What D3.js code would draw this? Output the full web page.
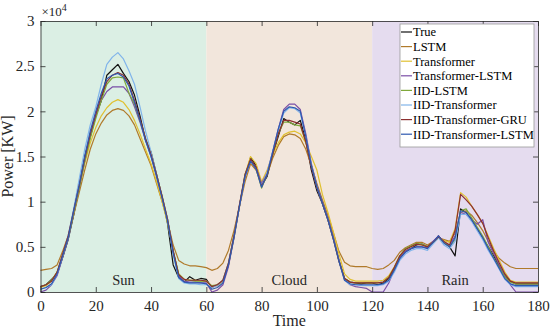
<!DOCTYPE html>
<html>
<head>
<meta charset="utf-8">
<script src="https://cdn.jsdelivr.net/npm/d3@7"></script>
<style>
  body { margin: 0; background: #fff; }
  text { font-family: "Liberation Serif", "Times New Roman", serif; fill: #262626; }
</style>
</head>
<body>
<div id="chart"></div>
<script>
// values are in units of 10^4 KW, sampled every 2 time steps
const time = d3.range(0, 181, 2)

const trueVals = [0.06,0.08,0.14,0.20,0.38,0.58,0.85,1.15,1.50,1.72,1.95,2.12,2.40,2.46,2.52,2.42,2.33,2.18,1.95,1.68,1.55,1.30,1.05,0.75,0.30,0.16,0.11,0.17,0.13,0.15,0.14,
  0.05,0.08,0.12,0.30,0.62,0.95,1.28,1.49,1.40,1.18,1.28,1.52,1.72,1.92,1.88,1.85,1.90,1.68,1.35,1.12,0.98,0.80,0.60,0.35,0.15,0.11,0.10,0.09,0.10,0.10,
  0.08,0.10,0.15,0.25,0.38,0.45,0.48,0.52,0.53,0.50,0.55,0.62,0.55,0.50,0.40,0.92,0.88,0.80,0.70,0.60,0.50,0.40,0.28,0.18,0.12,0.09,0.09,0.09,0.09,0.09]
const lstmVals = [0.24,0.25,0.26,0.30,0.45,0.62,0.85,1.10,1.35,1.58,1.75,1.87,1.96,2.01,2.03,2.01,1.95,1.85,1.70,1.55,1.40,1.20,1.00,0.78,0.52,0.35,0.31,0.29,0.29,0.28,0.27,
  0.24,0.26,0.32,0.46,0.68,0.95,1.22,1.42,1.35,1.20,1.30,1.48,1.62,1.72,1.75,1.74,1.70,1.58,1.40,1.20,1.02,0.85,0.65,0.45,0.33,0.29,0.28,0.28,0.28,0.26,
  0.25,0.26,0.30,0.35,0.44,0.49,0.52,0.55,0.55,0.52,0.56,0.60,0.58,0.56,0.65,0.88,0.90,0.85,0.77,0.68,0.56,0.45,0.37,0.32,0.28,0.26,0.26,0.26,0.26,0.26]
const transformerVals = [0.05,0.07,0.12,0.22,0.40,0.60,0.88,1.15,1.42,1.65,1.82,1.95,2.04,2.10,2.13,2.10,2.02,1.90,1.75,1.58,1.42,1.22,1.00,0.76,0.45,0.20,0.14,0.13,0.13,0.12,0.12,
  0.06,0.07,0.12,0.30,0.60,0.95,1.30,1.50,1.42,1.22,1.35,1.52,1.65,1.74,1.77,1.78,1.75,1.65,1.50,1.35,1.08,0.88,0.66,0.42,0.20,0.14,0.12,0.12,0.12,0.12,
  0.12,0.13,0.18,0.28,0.40,0.47,0.50,0.53,0.52,0.50,0.55,0.60,0.57,0.55,0.70,1.10,1.05,0.95,0.86,0.76,0.62,0.48,0.35,0.22,0.13,0.11,0.11,0.11,0.11,0.11]
const transLstmVals = [0.00,0.02,0.08,0.18,0.38,0.58,0.88,1.15,1.45,1.72,1.95,2.12,2.22,2.27,2.27,2.27,2.20,2.05,1.88,1.68,1.50,1.28,1.05,0.80,0.45,0.18,0.12,0.11,0.11,0.10,0.10,
  0.00,0.02,0.08,0.28,0.60,0.95,1.28,1.45,1.38,1.20,1.32,1.55,1.80,2.02,2.08,2.08,2.02,1.75,1.42,1.18,1.00,0.82,0.60,0.35,0.14,0.08,0.06,0.05,0.04,0.00,
  0.00,0.00,0.10,0.25,0.38,0.45,0.48,0.50,0.50,0.49,0.56,0.62,0.55,0.52,0.62,0.88,0.86,0.80,0.75,0.80,0.55,0.42,0.30,0.18,0.08,0.00,0.00,0.00,0.00,0.00]
const iidLstmVals = [0.06,0.08,0.13,0.22,0.40,0.60,0.88,1.15,1.45,1.70,1.92,2.12,2.30,2.37,2.38,2.37,2.20,2.08,1.90,1.70,1.52,1.30,1.06,0.80,0.45,0.20,0.14,0.13,0.12,0.12,0.12,
  0.07,0.08,0.13,0.32,0.62,0.96,1.30,1.46,1.36,1.15,1.30,1.52,1.75,1.88,1.88,1.85,1.84,1.66,1.40,1.16,0.98,0.80,0.58,0.34,0.15,0.11,0.10,0.10,0.10,0.10,
  0.10,0.11,0.16,0.27,0.40,0.48,0.51,0.54,0.53,0.50,0.54,0.60,0.55,0.50,0.58,0.90,0.92,0.82,0.72,0.62,0.50,0.38,0.27,0.17,0.11,0.09,0.09,0.09,0.09,0.09]
const iidTransVals = [0.03,0.05,0.08,0.20,0.40,0.62,0.92,1.25,1.58,1.85,2.05,2.30,2.52,2.60,2.65,2.58,2.45,2.30,2.05,1.78,1.55,1.30,1.05,0.80,0.42,0.15,0.10,0.09,0.09,0.08,0.08,
  0.05,0.07,0.13,0.32,0.62,0.96,1.28,1.45,1.37,1.18,1.32,1.55,1.78,1.98,2.04,2.03,1.98,1.72,1.40,1.16,0.98,0.80,0.58,0.34,0.13,0.08,0.08,0.07,0.07,0.07,
  0.07,0.08,0.12,0.22,0.35,0.42,0.46,0.48,0.48,0.46,0.53,0.60,0.52,0.48,0.56,0.86,0.86,0.78,0.68,0.58,0.46,0.36,0.25,0.14,0.08,0.06,0.06,0.06,0.06,0.06]
const iidGruVals = [0.06,0.08,0.12,0.22,0.42,0.62,0.90,1.18,1.48,1.75,1.97,2.17,2.33,2.40,2.43,2.40,2.30,2.12,1.92,1.70,1.52,1.30,1.06,0.80,0.46,0.19,0.14,0.13,0.13,0.13,0.12,
  0.06,0.08,0.13,0.32,0.62,0.97,1.30,1.47,1.38,1.17,1.30,1.52,1.75,1.90,1.90,1.88,1.86,1.66,1.38,1.15,0.98,0.80,0.58,0.34,0.15,0.11,0.10,0.10,0.10,0.10,
  0.10,0.11,0.16,0.27,0.40,0.47,0.50,0.53,0.52,0.50,0.55,0.61,0.56,0.52,0.68,1.08,1.02,0.95,0.86,0.76,0.60,0.45,0.32,0.20,0.12,0.10,0.10,0.10,0.10,0.10]
const iidTransLstmVals = [0.03,0.05,0.09,0.20,0.40,0.60,0.90,1.18,1.50,1.78,2.00,2.20,2.36,2.40,2.42,2.38,2.28,2.10,1.90,1.68,1.50,1.28,1.04,0.78,0.43,0.16,0.11,0.10,0.10,0.10,0.09,
  0.03,0.05,0.10,0.30,0.60,0.95,1.28,1.45,1.36,1.16,1.30,1.55,1.80,2.00,2.05,2.04,2.00,1.72,1.40,1.16,0.98,0.80,0.58,0.34,0.13,0.09,0.08,0.08,0.08,0.08,
  0.08,0.09,0.13,0.24,0.37,0.44,0.48,0.50,0.50,0.48,0.55,0.62,0.54,0.50,0.60,0.90,0.88,0.80,0.70,0.60,0.48,0.37,0.26,0.15,0.09,0.07,0.07,0.07,0.07,0.07]

const seriesNames = ['True', 'LSTM', 'Transformer', 'Transformer-LSTM', 'IID-LSTM', 'IID-Transformer', 'IID-Transformer-GRU', 'IID-Transformer-LSTM']
const seriesValues = [trueVals, lstmVals, transformerVals, transLstmVals, iidLstmVals, iidTransVals, iidGruVals, iidTransLstmVals]
const seriesColors = ['#111111', '#b07a2a', '#e0c030', '#7a4fa6', '#7fa83a', '#80b4ea', '#8c2f2f', '#2e58b0']

const weatherNames = ['Sun', 'Cloud', 'Rain']
const weatherStart = [0, 60, 120]
const weatherEnd = [60, 120, 180]
const weatherColors = ['#dbefe4', '#f2e6dc', '#e5dcef']

const xTicks = d3.range(0, 181, 20)
const yTicks = [0, 0.5, 1, 1.5, 2, 2.5, 3]

const width = 550
const height = 331
const margin = { top: 21, right: 12, bottom: 39, left: 40.5 }

const svg = d3.select('#chart').append('svg')
    .attr('width', width)
    .attr('height', height)

const x = d3.scaleLinear().domain([0, 180]).range([margin.left, width - margin.right])
const y = d3.scaleLinear().domain([0, 3]).range([height - margin.bottom, margin.top])

// weather bands
svg.selectAll('rect.band')
    .data(weatherNames).enter().append('rect')
    .attr('class', 'band')
    .attr('x', (d, i) => x(weatherStart[i]))
    .attr('width', (d, i) => x(weatherEnd[i]) - x(weatherStart[i]))
    .attr('y', y(3))
    .attr('height', y(0) - y(3))
    .style('fill', (d, i) => weatherColors[i])

svg.selectAll('text.band')
    .data(weatherNames).enter().append('text')
    .attr('x', (d, i) => x((weatherStart[i] + weatherEnd[i]) / 2))
    .attr('y', y(0) - 7)
    .attr('text-anchor', 'middle')
    .style('font-size', '14.5px')
    .text(d => d)

const line = d3.line()
    .x((d, i) => x(time[i]))
    .y(d => y(d))

svg.selectAll('path.series')
    .data(seriesValues).enter().append('path')
    .attr('class', 'series')
    .attr('d', d => line(d))
    .style('fill', 'none')
    .style('stroke', (d, i) => seriesColors[i])
    .style('stroke-width', 1.2)
    .style('stroke-linejoin', 'round')

// axes with inward ticks on all four sides
const tickLen = 5
const xAxisB = d3.axisBottom(x).tickValues(xTicks).tickSizeInner(-tickLen).tickSizeOuter(0).tickPadding(8)
const xAxisT = d3.axisTop(x).tickValues(xTicks).tickSizeInner(-tickLen).tickSizeOuter(0).tickFormat('')
const yAxisL = d3.axisLeft(y).tickValues(yTicks).tickSizeInner(-tickLen).tickSizeOuter(0).tickPadding(6).tickFormat(d3.format('~g'))
const yAxisR = d3.axisRight(y).tickValues(yTicks).tickSizeInner(-tickLen).tickSizeOuter(0).tickFormat('')

const axes = [
    svg.append('g').attr('transform', `translate(0,${y(0)})`).call(xAxisB),
    svg.append('g').attr('transform', `translate(0,${y(3)})`).call(xAxisT),
    svg.append('g').attr('transform', `translate(${x(0)},0)`).call(yAxisL),
    svg.append('g').attr('transform', `translate(${x(180)},0)`).call(yAxisR)
]
axes.forEach(g => {
    g.select('.domain').style('stroke', '#262626').style('stroke-width', 0.8)
    g.selectAll('.tick line').style('stroke', '#262626').style('stroke-width', 0.8)
    g.selectAll('.tick text')
        .style('font-family', '"Liberation Serif", "Times New Roman", serif')
        .style('font-size', '15px')
        .style('fill', '#262626')
})

svg.append('text')
    .attr('x', (x(0) + x(180)) / 2)
    .attr('y', height - 5)
    .attr('text-anchor', 'middle')
    .style('font-size', '16px')
    .text('Time')

svg.append('text')
    .attr('transform', `translate(13,${(y(0) + y(3)) / 2}) rotate(-90)`)
    .attr('text-anchor', 'middle')
    .style('font-size', '16px')
    .text('Power [KW]')

const exp = svg.append('text')
    .attr('x', x(0) + 1)
    .attr('y', y(3) - 5)
    .style('font-size', '13px')
exp.append('tspan').text('\u00d710')
exp.append('tspan').attr('dy', -5).style('font-size', '10px').text('4')

// legend
const legendX = 400
const legendY = 24
const rowH = 14.6
const legend = svg.append('g')
legend.append('rect')
    .attr('x', legendX)
    .attr('y', legendY)
    .attr('width', 134)
    .attr('height', 123)
    .style('fill', '#ffffff')
    .style('stroke', '#9a9a9a')
    .style('stroke-width', 0.8)

const rows = legend.selectAll('g.row')
    .data(seriesNames).enter().append('g')
    .attr('transform', (d, i) => `translate(${legendX + 1},${legendY + 8 + i * rowH})`)
rows.append('line')
    .attr('x1', 0).attr('x2', 11)
    .style('stroke', (d, i) => seriesColors[i])
    .style('stroke-width', 1.2)
rows.append('text')
    .attr('x', 12)
    .attr('dy', '0.35em')
    .style('font-size', '12.5px')
    .style('fill', '#000')
    .text(d => d)
</script>
</body>
</html>
